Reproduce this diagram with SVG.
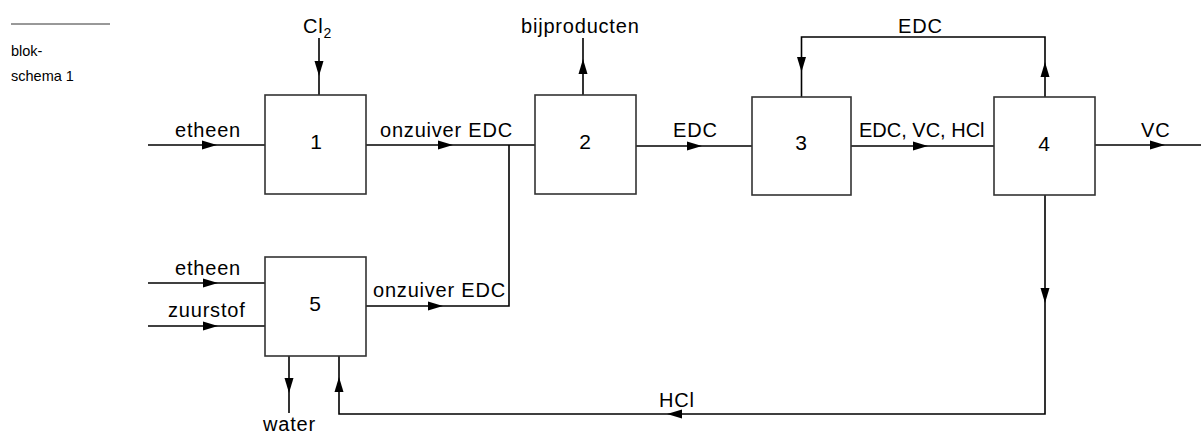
<svg xmlns="http://www.w3.org/2000/svg" xmlns:xlink="http://www.w3.org/1999/xlink" width="1201" height="433" viewBox="0 0 1201 433">
<style>
.box{fill:#fff;stroke:#333;stroke-width:1.6}
.ln{fill:none;stroke:#000;stroke-width:1.6}
.t{font-family:"Liberation Sans",Arial,sans-serif;font-size:20px;fill:#000;letter-spacing:0.8px}
.n{font-family:"Liberation Sans",Arial,sans-serif;font-size:21px;fill:#000;text-anchor:middle}
.s{font-family:"Liberation Sans",Arial,sans-serif;font-size:14.5px;fill:#000}
</style>
<defs>
<path id="ah" d="M0,0 L-15,-4.5 L-15,4.5 Z" fill="#000"/>
</defs>
<g id="legend">
<line x1="11" y1="24" x2="110" y2="24" stroke="#333" stroke-width="1"/>
<text class="s" x="11" y="56">blok-</text>
<text class="s" x="11" y="81">schema 1</text>
</g>
<g id="connectors">
<path class="ln" d="M319,38 V95"/>
<path class="ln" d="M148,145 H265"/>
<path class="ln" d="M366,145 H535"/>
<path class="ln" d="M583,95 V38"/>
<path class="ln" d="M636,146 H752"/>
<path class="ln" d="M1045,97 V37 H801.5 V97"/>
<path class="ln" d="M851,146 H994"/>
<path class="ln" d="M1095,145 H1201"/>
<path class="ln" d="M1045,195 V414 H339 V356"/>
<path class="ln" d="M366,306 H509 V145"/>
<path class="ln" d="M148,283 H265"/>
<path class="ln" d="M148,326 H265"/>
<path class="ln" d="M289,356 V413"/>
<use xlink:href="#ah" transform="translate(319,76) rotate(90)"/>
<use xlink:href="#ah" transform="translate(217,145)"/>
<use xlink:href="#ah" transform="translate(453,145)"/>
<use xlink:href="#ah" transform="translate(583,59) rotate(-90)"/>
<use xlink:href="#ah" transform="translate(702,146)"/>
<use xlink:href="#ah" transform="translate(1045,62) rotate(-90)"/>
<use xlink:href="#ah" transform="translate(801.5,72) rotate(90)"/>
<use xlink:href="#ah" transform="translate(928,146)"/>
<use xlink:href="#ah" transform="translate(1165,145)"/>
<use xlink:href="#ah" transform="translate(1045,303) rotate(90)"/>
<use xlink:href="#ah" transform="translate(667,414) rotate(180)"/>
<use xlink:href="#ah" transform="translate(339,377) rotate(-90)"/>
<use xlink:href="#ah" transform="translate(289,393) rotate(90)"/>
<use xlink:href="#ah" transform="translate(218,283)"/>
<use xlink:href="#ah" transform="translate(218,326)"/>
<use xlink:href="#ah" transform="translate(443,306)"/>
</g>
<g id="labels">
<text class="t" x="303" y="33">Cl<tspan font-size="14" dy="5">2</tspan></text>
<text class="t" x="175" y="137">etheen</text>
<text class="t" x="380" y="137">onzuiver EDC</text>
<text class="t" x="521" y="33">bijproducten</text>
<text class="t" x="673" y="137">EDC</text>
<text class="t" x="898" y="33">EDC</text>
<text class="t" x="859" y="137" style="letter-spacing:0">EDC, VC, HCl</text>
<text class="t" x="1141" y="137">VC</text>
<text class="t" x="175" y="275">etheen</text>
<text class="t" x="168" y="317">zuurstof</text>
<text class="t" x="373" y="297">onzuiver EDC</text>
<text class="t" x="659" y="407">HCl</text>
<text class="t" x="263" y="431">water</text>
</g>
<g id="node1"><rect class="box" x="265" y="95" width="101" height="99"/><text class="n" x="316" y="149">1</text></g>
<g id="node2"><rect class="box" x="535" y="95" width="101" height="99"/><text class="n" x="585" y="149">2</text></g>
<g id="node3"><rect class="box" x="752" y="97" width="99" height="98"/><text class="n" x="801" y="150">3</text></g>
<g id="node4"><rect class="box" x="994" y="97" width="101" height="98"/><text class="n" x="1044" y="151">4</text></g>
<g id="node5"><rect class="box" x="265" y="257" width="101" height="99"/><text class="n" x="315" y="311">5</text></g>
</svg>
